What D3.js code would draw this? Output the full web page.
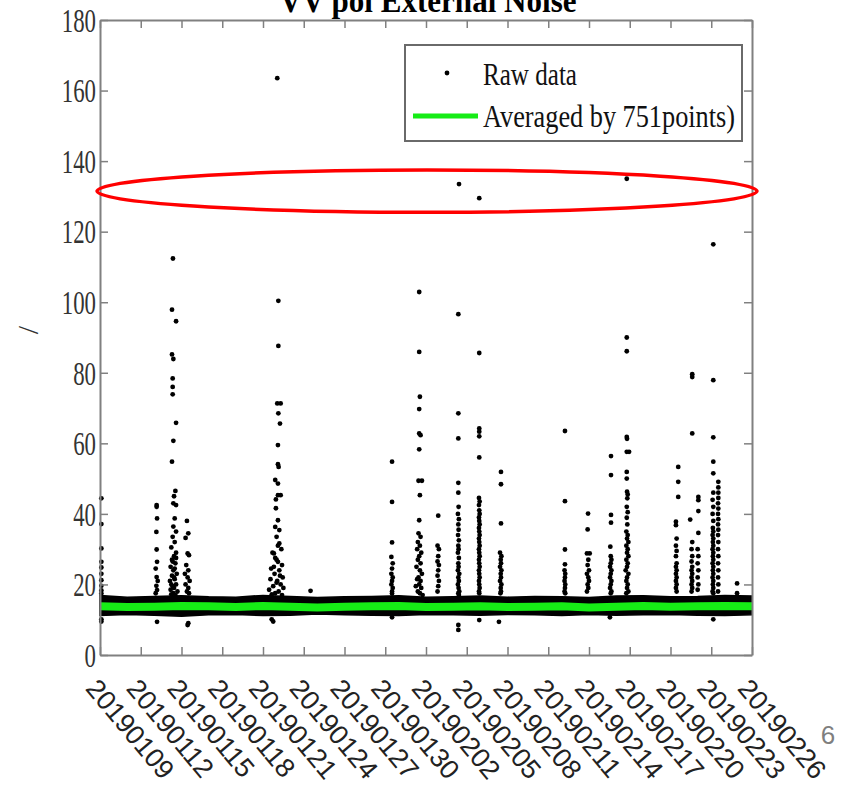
<!DOCTYPE html>
<html>
<head>
<meta charset="utf-8">
<script src="https://cdn.jsdelivr.net/npm/d3@7"></script>
<style>
  html, body { margin: 0; padding: 0; background: #fff; }
  svg { display: block; }
</style>
</head>
<body>
<svg id="chart" width="846" height="791"></svg>
<script>
// x axis: days since 2019-01-09, one tick every 3 days
const tickDays = [0, 3, 6, 9, 12, 15, 18, 21, 24, 27, 30, 33, 36, 39, 42, 45, 48];
const tickLabels = ['20190109', '20190112', '20190115', '20190118', '20190121', '20190124',
    '20190127', '20190130', '20190202', '20190205', '20190208', '20190211', '20190214',
    '20190217', '20190220', '20190223', '20190226'];
const yTicks = [0, 20, 40, 60, 80, 100, 120, 140, 160, 180];

// dense noise floor of the raw data (min / max envelope), every 2 days
const bandDays = [0, 2, 4, 6, 8, 10, 12, 14, 16, 18, 20, 22, 24, 26, 28, 30, 32, 34, 36, 38, 40, 42, 44, 46, 48];
const bandHigh = [16.9, 16.4, 16.6, 16.8, 16.5, 16.4, 16.9, 16.6, 16.3, 16.5, 16.6, 16.8, 16.4,
    16.5, 16.7, 16.4, 16.6, 16.5, 16.3, 16.7, 16.8, 16.5, 16.6, 16.9, 16.7];
const bandLow = [11.2, 11.5, 11.3, 11.0, 11.4, 11.5, 11.2, 11.3, 11.6, 11.4, 11.3, 11.2, 11.5,
    11.4, 11.3, 11.5, 11.4, 11.2, 11.5, 11.3, 11.4, 11.5, 11.3, 11.2, 11.4];

// moving average (751 points)
const avgValues = [13.8, 13.6, 13.7, 13.9, 13.8, 13.6, 13.9, 13.7, 13.5, 13.7, 13.8, 13.9, 13.6,
    13.7, 13.8, 13.6, 13.7, 13.8, 13.5, 13.7, 13.9, 13.7, 13.8, 13.9, 13.8];

// raw points outside the noise floor, one line per burst
const rawDays = [
    0.1, 0.1, 0.1, 0.1, 0.1, 0.1, 0.1, 0.1, 0.1, 0.1, 0.1, 0.1,
    4.17, 4.17, 4.2, 4.15, 4.17, 4.2, 4.1, 4.17, 4.25, 4.15, 4.2, 4.1, 4.2,
    5.37, 5.3, 5.6, 5.3, 5.4, 5.35, 5.35, 5.35, 5.6, 5.4, 5.3, 5.55, 5.45, 5.4, 5.6, 5.5, 5.4, 5.6, 5.35, 5.5, 5.25, 5.6, 5.45, 5.3, 5.55, 5.2, 5.4, 5.65, 5.3, 5.5, 5.15, 5.6, 5.35, 5.45, 5.2, 5.7, 5.4, 5.55, 5.25, 5.5, 5.35, 5.6, 5.45, 5.25,
    6.4, 6.5, 6.3, 6.45, 6.55, 6.35, 6.5, 6.25, 6.45, 6.6, 6.3, 6.5, 6.4, 6.55, 6.5, 6.45,
    13.05, 13.13, 13.13, 13.05, 13.3, 13.13, 13.25, 13.1, 13.1, 13.15, 12.9, 13.1, 13.1, 13.3, 12.95, 12.95, 13.1, 12.9, 13.2, 13.0, 13.2, 12.8, 13.1, 13.35, 12.7, 13.0, 13.4, 12.6, 13.2, 12.85, 13.45, 12.55, 13.05, 13.3, 12.75, 13.5, 12.45, 13.15, 12.9, 13.4, 12.65, 13.0, 13.25, 12.8, 13.1, 12.9, 12.64, 12.75,
    15.5,
    21.5, 21.5, 21.5, 21.45, 21.55, 21.5, 21.45, 21.55, 21.5, 21.45, 21.55, 21.5, 21.5, 21.5,
    23.5, 23.5, 23.55, 23.5, 23.5, 23.6, 23.5, 23.45, 23.7, 23.55, 23.5, 23.45, 23.6, 23.4, 23.55, 23.35, 23.65, 23.5, 23.4, 23.6, 23.3, 23.55, 23.7, 23.45, 23.35, 23.6, 23.5, 23.25, 23.65, 23.4, 23.55, 23.75,
    24.9, 24.85, 24.95, 24.9, 24.85, 24.95, 24.9, 24.85, 24.95, 24.9, 24.85,
    26.43, 26.38, 26.38, 26.38, 26.38, 26.38, 26.4, 26.35, 26.42, 26.38, 26.4, 26.36, 26.42, 26.38, 26.4, 26.35, 26.42, 26.38, 26.4, 26.35, 26.45, 26.38, 26.42, 26.35, 26.4, 26.45, 26.38, 26.42, 26.38, 26.38,
    27.92, 27.92, 27.92, 27.92, 27.92, 27.92, 27.9, 27.95, 27.9, 27.92, 27.95, 27.9, 27.92, 27.95, 27.9, 27.92, 27.95, 27.9, 27.92, 27.95, 27.9, 27.92, 27.95, 27.9, 27.92, 27.95, 27.9, 27.92, 27.95, 27.9, 27.92, 27.95, 27.9, 27.92, 27.92,
    29.52, 29.52, 29.52, 29.45, 29.55, 29.5, 29.52, 29.45, 29.55, 29.5, 29.52, 29.45, 29.55, 29.5, 29.52, 29.48, 29.37,
    34.23, 34.23, 34.23, 34.23, 34.2, 34.25, 34.23, 34.2, 34.25, 34.23, 34.2, 34.25,
    35.93, 35.9, 35.85, 36.05, 35.95, 35.9, 36.0, 35.85, 35.95, 36.0, 35.9, 35.95, 35.85,
    37.62, 37.62, 37.62, 37.62, 37.57, 37.6, 37.65, 37.6, 37.55, 37.65, 37.6, 37.55, 37.65, 37.6, 37.55, 37.65, 37.6, 37.54,
    38.78, 38.78, 38.78, 38.78, 38.8, 38.78, 38.95, 38.78, 38.78, 38.8, 38.85, 38.82, 38.78, 38.85, 38.78, 38.82, 38.75, 38.85, 38.8, 38.9, 38.75, 38.85, 38.8, 38.9, 38.75, 38.85, 38.8, 38.7, 38.9, 38.8, 38.75, 38.85, 38.8, 38.9, 38.75,
    42.57, 42.57, 42.57, 42.4, 42.4, 42.45, 42.4, 42.45, 42.4, 42.45, 42.4, 42.45, 42.4, 42.45, 42.4, 42.45, 42.4, 42.45,
    43.6, 43.6, 43.6, 43.45, 43.6, 43.55, 43.6, 43.55, 43.6, 43.55, 43.6, 43.55, 43.6, 43.55, 43.6, 43.55,
    44.05, 44.05, 44.05, 44.05, 44.0, 44.05, 44.0, 44.05, 44.0, 44.05, 44.0,
    45.15, 45.15, 45.15, 45.15, 45.15, 45.15, 45.1, 45.15, 45.1, 45.15, 45.12, 45.15, 45.1, 45.15, 45.12, 45.15, 45.1, 45.15, 45.12, 45.15, 45.1, 45.15, 45.12, 45.15, 45.1, 45.15, 45.12, 45.15, 45.1, 45.15, 45.15,
    45.52, 45.52, 45.52, 45.52, 45.5, 45.52, 45.5, 45.52, 45.5, 45.52, 45.5, 45.52, 45.5, 45.52, 45.5, 45.52, 45.5, 45.52, 45.5,
    46.9, 46.9
];
const rawValues = [
    44.4, 37.1, 30.2, 26.4, 24.8, 23.0, 21.2, 19.6, 18.3, 17.4, 10.1, 9.5,
    42.5, 42.0, 38.7, 34.9, 29.9, 26.4, 24.5, 22.1, 21.0, 19.6, 18.4, 17.5, 9.4,
    112.4, 97.9, 94.6, 85.2, 83.9, 78.4, 76.0, 73.9, 65.8, 60.7, 54.8, 46.5, 45.0, 43.0, 42.5, 38.7, 36.4, 35.0, 33.5, 32.0, 30.5, 29.0, 28.0, 27.0, 26.0, 25.0, 24.0, 23.0, 22.5, 21.5, 21.0, 20.0, 19.5, 19.0, 18.5, 18.0, 17.5, 17.0, 17.2, 24.5, 26.5, 27.5, 22.0, 20.0,
    38.0, 34.5, 33.2, 28.8, 28.3, 25.5, 24.0, 23.0, 22.0, 21.0, 20.0, 19.0, 18.0, 17.5, 9.0, 8.5,
    163.5, 100.4, 87.6, 71.3, 71.3, 68.5, 65.6, 59.5, 54.1, 53.3, 49.6, 48.6, 45.3, 45.3, 44.1, 41.6, 38.2, 36.3, 35.4, 33.5, 31.6, 28.8, 26.4, 30.0, 29.0, 27.0, 25.5, 24.5, 24.0, 23.0, 22.0, 21.5, 21.0, 20.0, 19.5, 19.0, 18.5, 18.0, 17.5, 17.0, 17.2, 20.5, 22.5, 25.0, 31.0, 27.5, 10.1, 9.5,
    18.2,
    54.8, 43.4, 31.9, 27.8, 26.0, 24.5, 23.0, 22.0, 21.0, 20.0, 19.0, 18.0, 17.4, 10.7,
    102.9, 85.9, 73.2, 69.7, 62.8, 62.3, 58.3, 49.4, 49.4, 45.3, 38.2, 34.5, 33.5, 32.0, 31.0, 30.0, 29.0, 28.0, 27.0, 26.0, 25.0, 24.0, 23.0, 22.0, 21.5, 21.0, 20.0, 19.5, 19.0, 18.0, 17.5, 17.0,
    39.5, 31.0, 30.0, 28.0, 26.5, 25.5, 24.0, 22.5, 21.0, 19.5, 18.0,
    133.5, 96.6, 68.5, 61.4, 48.8, 46.0, 42.0, 40.0, 38.5, 37.0, 35.5, 34.0, 32.5, 31.0, 30.0, 29.0, 27.5, 26.0, 25.0, 24.0, 23.0, 22.0, 21.0, 20.0, 19.0, 18.0, 17.5, 17.0, 8.5, 7.1,
    129.5, 85.6, 64.2, 63.3, 62.0, 56.0, 44.5, 43.5, 42.5, 41.0, 40.0, 39.0, 38.0, 37.0, 36.0, 35.0, 34.0, 33.0, 32.0, 31.0, 30.0, 29.0, 28.0, 27.0, 26.0, 25.0, 24.0, 23.0, 22.0, 21.0, 20.0, 19.0, 18.0, 17.5, 9.9,
    51.9, 48.4, 37.3, 29.0, 28.0, 27.0, 26.0, 25.0, 24.0, 23.0, 22.0, 21.0, 20.0, 19.0, 18.0, 17.5, 9.4,
    63.5, 43.6, 29.9, 25.7, 24.0, 23.0, 22.0, 21.0, 20.0, 19.0, 18.0, 17.5,
    40.1, 35.6, 28.8, 28.8, 27.0, 25.5, 24.0, 23.0, 22.0, 21.0, 20.0, 19.0, 18.0,
    56.4, 51.0, 39.7, 37.5, 30.7, 28.0, 27.0, 26.0, 25.0, 24.0, 23.0, 22.0, 21.0, 20.0, 19.0, 18.0, 17.5, 10.7,
    135.0, 90.0, 86.1, 61.8, 61.3, 57.6, 57.6, 51.9, 50.0, 46.3, 45.5, 44.4, 42.0, 40.5, 38.9, 37.0, 35.0, 34.0, 33.0, 32.0, 31.0, 30.0, 29.0, 28.0, 27.0, 26.0, 25.0, 24.0, 23.0, 22.0, 21.0, 20.0, 19.0, 18.0, 17.5,
    53.3, 49.1, 44.8, 37.8, 36.8, 33.0, 31.0, 29.5, 28.0, 26.0, 25.0, 24.0, 23.0, 22.0, 21.0, 20.0, 19.0, 18.0,
    79.6, 78.8, 62.8, 38.4, 32.0, 30.0, 28.0, 26.5, 25.0, 24.0, 23.0, 22.0, 21.0, 20.0, 19.0, 18.0,
    44.8, 43.9, 40.8, 34.6, 30.0, 28.0, 26.0, 24.0, 22.0, 20.0, 18.5,
    116.4, 77.9, 61.7, 54.8, 51.5, 46.0, 44.0, 42.0, 40.0, 38.0, 36.0, 35.0, 34.0, 33.0, 32.0, 31.0, 30.0, 29.0, 28.0, 27.0, 26.0, 25.0, 24.0, 23.0, 22.0, 21.0, 20.0, 19.0, 18.0, 17.5, 10.1,
    49.1, 47.5, 46.0, 44.5, 43.0, 41.5, 40.0, 38.5, 37.0, 35.5, 34.0, 32.0, 30.0, 28.0, 26.0, 24.0, 22.0, 20.0, 18.0,
    20.3, 17.5
];

const legendLabels = ['Raw data', 'Averaged by 751points)'];

(() => {
    'use strict';

    const svg = d3.select('#chart'),
          left = 100, right = 752, top = 20, bottom = 655,
          axisColor = '#808080',
          serif = '"Liberation Serif", "Times New Roman", serif';

    const x = d3.scaleLinear().domain([0, 48]).range([left, right]),
          y = d3.scaleLinear().domain([0, 180]).range([bottom, top]);

    svg.append('rect').attr('width', 846).attr('height', 791).attr('fill', '#fff');

    // title, mostly cut off by the top of the slide (as in the source slide)
    svg.append('text')
        .attr('x', 428).attr('y', 12)
        .attr('text-anchor', 'middle')
        .attr('font-family', serif).attr('font-weight', 'bold').attr('font-size', 34)
        .attr('textLength', 297).attr('lengthAdjust', 'spacingAndGlyphs')
        .text('VV pol External Noise');

    // noise floor
    const band = bandDays.map((d, i) => ({ day: d, lo: bandLow[i], hi: bandHigh[i] }));
    svg.append('path')
        .datum(band)
        .attr('fill', '#000')
        .attr('stroke', '#000')
        .attr('stroke-width', 1.5)
        .attr('d', d3.area().x(d => x(d.day)).y0(d => y(d.lo)).y1(d => y(d.hi)));

    // raw bursts
    svg.append('g').selectAll('circle')
        .data(rawDays.map((d, i) => ({ day: d, v: rawValues[i] })))
        .enter()
        .append('circle')
        .attr('cx', d => x(d.day))
        .attr('cy', d => y(d.v))
        .attr('r', 2.4)
        .attr('fill', '#000');

    // moving average
    svg.append('path')
        .datum(bandDays.map((d, i) => ({ day: d, v: avgValues[i] })))
        .attr('fill', 'none')
        .attr('stroke', '#16ec16')
        .attr('stroke-width', 8)
        .attr('d', d3.line().x(d => x(d.day)).y(d => y(d.v)));

    // axes, MATLAB style box with inward ticks
    const styleAxis = g => {
        g.selectAll('.domain').attr('stroke', axisColor).attr('stroke-width', 2);
        g.selectAll('.tick line').attr('stroke', axisColor).attr('stroke-width', 1.5);
    };

    svg.append('g')
        .attr('transform', `translate(0,${bottom})`)
        .call(d3.axisBottom(x).tickValues(tickDays).tickSize(-8).tickSizeOuter(0)
            .tickFormat((d, i) => tickLabels[i]))
        .call(styleAxis)
        .call(g => g.selectAll('.tick text')
            .attr('x', -16).attr('y', 34).attr('dy', 0)
            .attr('text-anchor', 'start')
            .attr('transform', 'rotate(50,-16,34)')
            .attr('font-family', '"Liberation Sans", Arial, sans-serif')
            .attr('font-size', 27)
            .attr('fill', '#222'));

    svg.append('g')
        .attr('transform', `translate(0,${top})`)
        .call(d3.axisTop(x).tickValues(tickDays).tickSize(-8).tickSizeOuter(0).tickFormat(''))
        .call(styleAxis);

    svg.append('g')
        .attr('transform', `translate(${left},0)`)
        .call(d3.axisLeft(y).tickValues(yTicks).tickSize(-8).tickSizeOuter(0).tickPadding(4))
        .call(styleAxis)
        .call(g => g.selectAll('.tick text')
            .attr('font-family', serif)
            .attr('font-size', 33)
            .attr('fill', '#333')
            .attr('dy', '0.34em')
            .attr('textLength', d => String(d).length * 11.4)
            .attr('lengthAdjust', 'spacingAndGlyphs'));

    svg.append('g')
        .attr('transform', `translate(${right},0)`)
        .call(d3.axisRight(y).tickValues(yTicks).tickSize(-8).tickSizeOuter(0).tickFormat(''))
        .call(styleAxis);

    // y label
    svg.append('text')
        .attr('transform', 'translate(38,330) rotate(-90)')
        .attr('text-anchor', 'middle')
        .attr('font-family', serif).attr('font-size', 30)
        .attr('fill', '#333')
        .text('/');

    // legend
    const lg = svg.append('g');
    lg.append('rect')
        .attr('x', 405).attr('y', 45).attr('width', 337).attr('height', 96)
        .attr('fill', '#fff').attr('stroke', '#6a6a6a').attr('stroke-width', 2);
    lg.append('circle').attr('cx', 447).attr('cy', 73).attr('r', 2.4).attr('fill', '#000');
    lg.append('line')
        .attr('x1', 413).attr('x2', 478).attr('y1', 116).attr('y2', 116)
        .attr('stroke', '#16ec16').attr('stroke-width', 5);
    lg.selectAll('text.lbl')
        .data(legendLabels)
        .enter()
        .append('text')
        .attr('class', 'lbl')
        .attr('x', 483)
        .attr('y', (d, i) => 85 + i * 42)
        .attr('font-family', serif).attr('font-size', 32)
        .attr('fill', '#111')
        .attr('textLength', (d, i) => i === 0 ? 94 : 252)
        .attr('lengthAdjust', 'spacingAndGlyphs')
        .text(d => d);

    // red highlight around the 130-135 outliers
    svg.append('ellipse')
        .attr('cx', (x(0) + x(48)) / 2 + 1)
        .attr('cy', y(131.5))
        .attr('rx', (x(48) - x(0)) / 2 + 4)
        .attr('ry', y(125.5) - y(131.5))
        .attr('fill', 'none')
        .attr('stroke', '#ff0000')
        .attr('stroke-width', 3.5);

    // slide number
    svg.append('text')
        .attr('x', 828).attr('y', 744)
        .attr('text-anchor', 'middle')
        .attr('font-family', '"Liberation Sans", Arial, sans-serif')
        .attr('font-size', 26)
        .attr('fill', '#7f7f7f')
        .text('6');
})();
</script>
</body>
</html>
